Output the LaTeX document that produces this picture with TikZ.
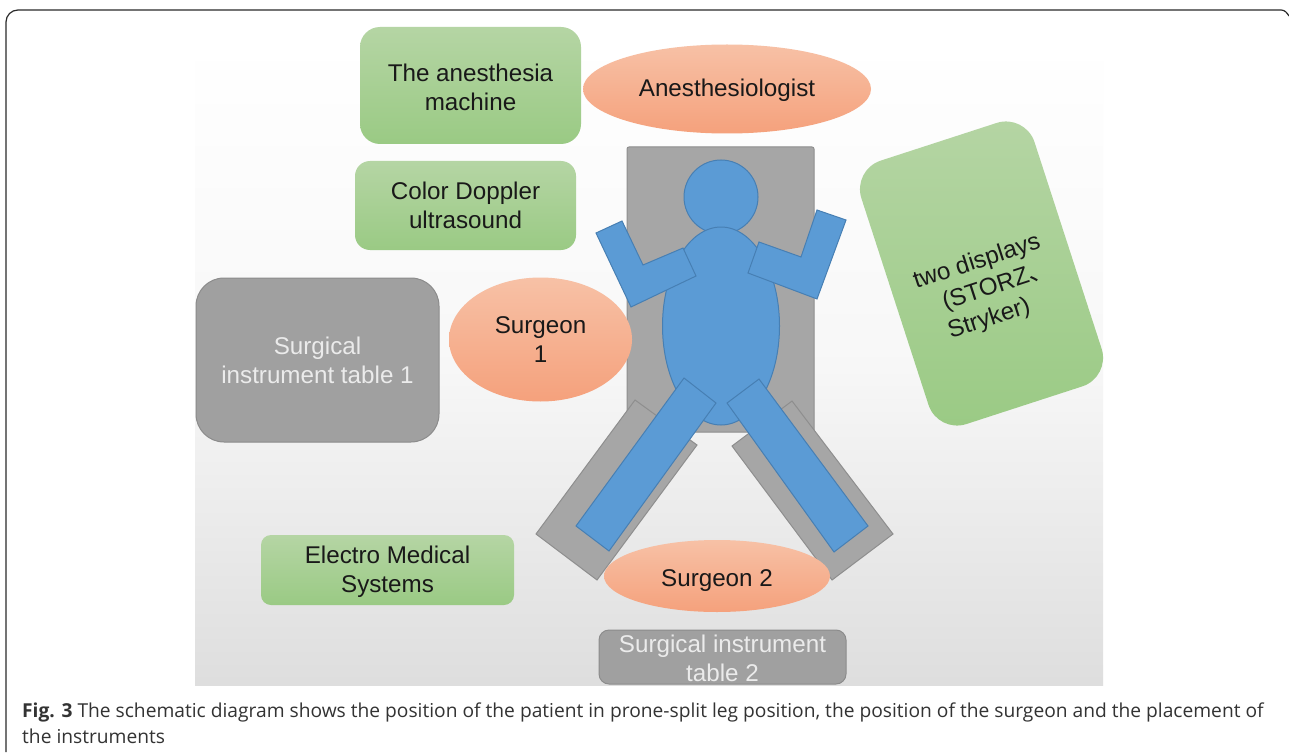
\documentclass[tikz,border=0pt]{standalone}
\usepackage{fontspec}
\setmainfont{Liberation Sans}
\newfontfamily\capfont{Open Sans}
\newfontfamily\cjk{Noto Sans CJK SC}
\definecolor{tablegray}{HTML}{A6A6A6}
\definecolor{tableedge}{HTML}{8E8E8E}
\definecolor{boxgray}{HTML}{A0A0A0}
\definecolor{boxedge}{HTML}{8C8C8C}
\definecolor{bodyblue}{HTML}{5B9BD5}
\definecolor{bodyedge}{HTML}{477FB3}
\definecolor{greentop}{HTML}{B5D5A4}
\definecolor{greenbot}{HTML}{9ACA84}
\definecolor{orangetop}{HTML}{F7C1A6}
\definecolor{orangebot}{HTML}{F5A17C}
\definecolor{framecol}{HTML}{2A2A2A}
\definecolor{captext}{HTML}{333333}
\tikzset{
  greenbox/.style={rectangle,top color=greentop,bottom color=greenbot,draw=none,inner sep=0pt,align=center,text=black!90,font=\fontsize{24.2}{29}\selectfont},
  orangeoval/.style={ellipse,top color=orangetop,bottom color=orangebot,draw=none,inner sep=0pt,align=center,text=black!90,font=\fontsize{24.2}{29}\selectfont},
  graybox/.style={rectangle,fill=boxgray,draw=boxedge,line width=1pt,inner sep=0pt,align=center,text=white!92!black,font=\fontsize{24.2}{29}\selectfont},
  tableshape/.style={fill=tablegray,draw=tableedge,line width=1pt},
  bodyshape/.style={fill=bodyblue,draw=bodyedge,line width=1pt},
  captionline/.style={inner sep=0pt,anchor=base west,text=captext,font=\capfont\fontsize{19.2}{24}\selectfont}
}
\usetikzlibrary{shapes.geometric}
\begin{document}
\begin{tikzpicture}[x=1pt,y=-1pt]
\useasboundingbox (0,0) rectangle (1289,754);
\fill[white] (0,0) rectangle (1289,754);
% frame
\draw[framecol,line width=1.2pt] (6,752) [rounded corners=12pt] -- (6,10) [sharp corners] -- (1281,10) .. controls (1285,10) and (1287,13) .. (1289,16);
% background panel
\shade[top color=white,bottom color=black!13,middle color=black!3] (195,40) rectangle (1103,685);
% operating table
\draw[tableshape,rounded corners=2pt] (627,147) rectangle (814,432);
\draw[tableshape] (635,400) -- (697,445) -- (597,580) -- (536,534) -- cycle;
\draw[tableshape] (792,401) -- (893,534) -- (832,580) -- (732,446) -- cycle;
% patient
\node[circle,bodyshape,minimum size=74pt,inner sep=0pt] (head) at (721,197) {};
\node[ellipse,bodyshape,minimum width=117pt,minimum height=198pt,inner sep=0pt] (trunk) at (721,326) {};
\draw[bodyshape] (596,233) -- (622,221) -- (643,265) -- (683,248) -- (696,276) -- (631,307) -- cycle;
\draw[bodyshape] (817,210) -- (846,220) -- (817,299) -- (748,273) -- (759,242) -- (801,257) -- cycle;
\draw[bodyshape] (684,378) -- (716,403) -- (609,551) -- (576,526) -- cycle;
\draw[bodyshape] (759,379) -- (868,526) -- (834,552) -- (727,403) -- cycle;
% labels
\node[greenbox,rounded corners=20pt,minimum width=221pt,minimum height=117pt] (machine) at (470.5,85.5) {\rule{0pt}{20.5pt}The anesthesia\\machine};
\node[orangeoval,minimum width=288pt,minimum height=89pt,text height=17pt,text depth=1pt] (anes) at (727,89) {Anesthesiologist};
\node[greenbox,rounded corners=15pt,minimum width=221pt,minimum height=89pt] (doppler) at (465.5,205.5) {Color Doppler\\ultrasound};
\node[graybox,rounded corners=28pt,minimum width=243pt,minimum height=164pt] (table1) at (317.5,360) {Surgical\\instrument table 1};
\node[orangeoval,minimum width=183pt,minimum height=124pt] (surgeon1) at (540.5,339.5) {Surgeon\\1};
\node[greenbox,rotate=18,rounded corners=30pt,minimum width=182pt,minimum height=277pt] (displays) at (981.5,273.5) {};
\node[rotate=18,align=center,inner sep=0pt,text=black!90,font=\fontsize{24.2}{29}\selectfont] (displaytext) at (986,290) {two displays\\(STORZ\rlap{\cjk 、}\\Stryker)\hspace*{12pt}};
\node[greenbox,rounded corners=10pt,minimum width=253pt,minimum height=70pt] (electro) at (387.5,570) {\rule{0pt}{20.5pt}Electro Medical\\Systems};
\node[orangeoval,minimum width=226pt,minimum height=72pt,text height=20pt,text depth=0pt] (surgeon2) at (717,576) {Surgeon 2};
\node[graybox,rounded corners=10pt,minimum width=247pt,minimum height=54pt] (table2) at (722.5,657) {\rule{0pt}{20.5pt}Surgical instrument\\table 2};
% caption
\node[captionline] (cap1) at (22,717) {\textbf{Fig. 3} The schematic diagram shows the position of the patient in prone-split leg position, the position of the surgeon and the placement of};
\node[captionline] (cap2) at (22,743) {the instruments};
\end{tikzpicture}
\end{document}
